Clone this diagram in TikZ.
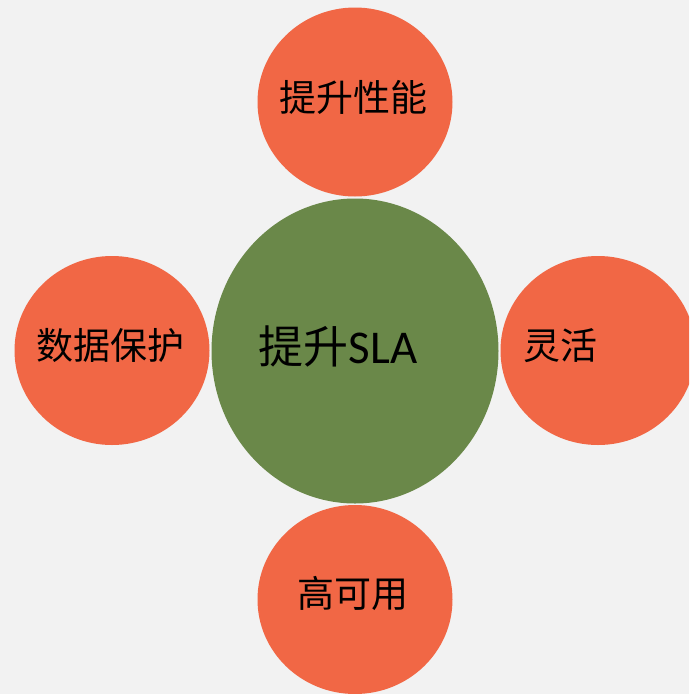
\documentclass[tikz,border=0pt]{standalone}
\usepackage{fontspec}
\setmainfont{Carlito}
\newfontfamily\cjk{Noto Sans CJK SC}
\usetikzlibrary{shapes.geometric}
\definecolor{bgc}{RGB}{242,242,242}
\definecolor{orangec}{RGB}{241,103,69}
\definecolor{greenc}{RGB}{106,136,73}
\tikzset{
  blob/.style={ellipse, fill=orangec, draw=none, inner sep=0pt, minimum width=195pt, minimum height=189pt},
  hub/.style={ellipse, fill=greenc, draw=none, inner sep=0pt, minimum width=287pt, minimum height=305pt},
  lbl/.style={inner sep=0pt, text=black, font=\cjk\fontsize{37}{42}\selectfont}
}
\begin{document}
\begin{tikzpicture}[x=1pt,y=-1pt]
\fill[bgc] (0,0) rectangle (689,694);
\useasboundingbox (0,0) rectangle (689,694);
\clip (0,0) rectangle (689,694);
\node[hub] (hub) at (355,351) {};
\node[blob] (top) at (355,102) {};
\node[blob] (bottom) at (355,599.5) {};
\node[blob] (left) at (112,350.5) {};
\node[blob] (right) at (598,350.5) {};
\node[lbl] (tlbl) at (353.5,97) {提升性能};
\node[lbl] (blbl) at (353,593) {高可用};
\node[lbl] (llbl) at (110,345) {数据保护};
\node[lbl] (rlbl) at (560,346) {灵活};
\node[inner sep=0pt, text=black] (hlbl) at (338,346) {{\cjk\fontsize{45}{50}\selectfont 提升}{\fontsize{47}{52}\selectfont SLA}};
\end{tikzpicture}
\end{document}
